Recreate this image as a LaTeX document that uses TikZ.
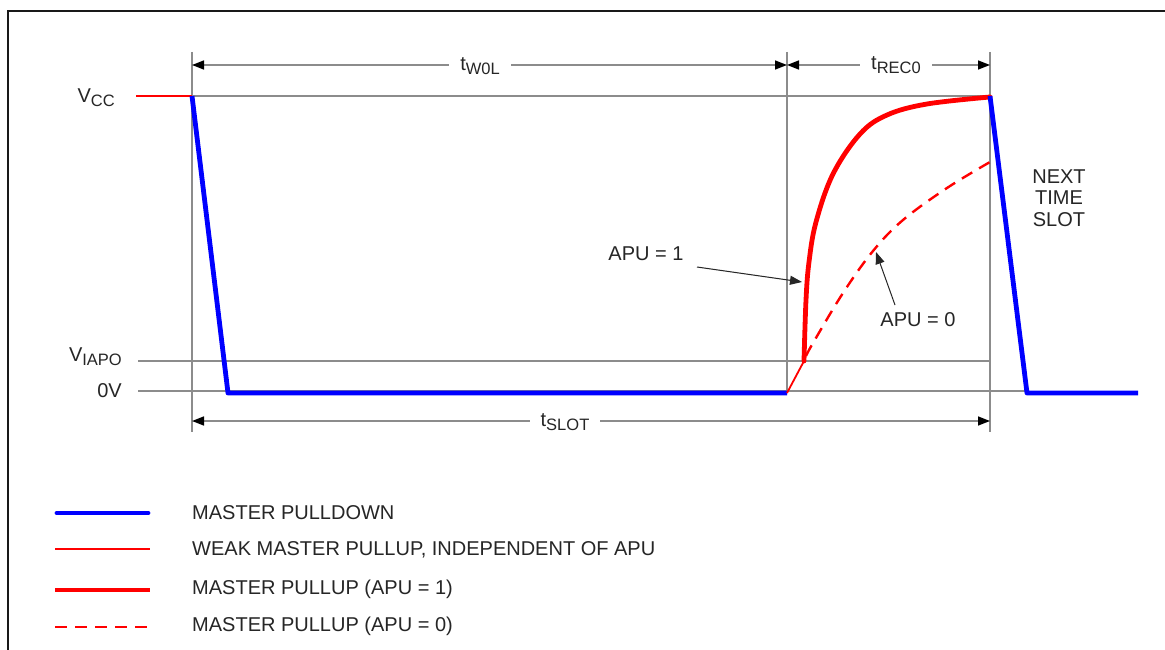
\documentclass[tikz,border=0pt]{standalone}
\usepackage{fontspec}
\setmainfont{Liberation Sans}
\usetikzlibrary{arrows.meta}
\newcommand{\sbx}[1]{\raisebox{-4pt}{\fontsize{16.5}{18}\selectfont #1}}
\begin{document}
\begin{tikzpicture}[x=1pt,y=-1pt,
  txt/.style={font=\fontsize{20}{22}\selectfont, text=black!85, inner sep=1pt},
  ref/.style={draw=black!45, line width=1.2pt},
  dimline/.style={draw=black!45, line width=1.5pt, {Triangle[length=12pt,width=9pt,color=black]}-{Triangle[length=12pt,width=9pt,color=black]}},
  callout/.style={draw=black!85, line width=1pt, -{Triangle[length=12pt,width=9pt]}},
  pulldown/.style={draw=blue, line width=4.8pt, line join=round},
  weak/.style={draw=red, line width=1.8pt},
  strong/.style={draw=red, line width=4.8pt, line cap=round},
  apuzero/.style={draw=red, line width=2.4pt, dash pattern=on 12pt off 8pt},
]
\useasboundingbox (0,0) rectangle (1165,650);
\fill[white] (0,0) rectangle (1165,650);
% frame
\draw[black!90, line width=2pt] (8,650) -- (8,11) -- (1165,11);

% coordinates
\coordinate (a0) at (192,96);
\coordinate (a1) at (228,393);
\coordinate (b0) at (787,393);
\coordinate (b1) at (804,361);
\coordinate (c0) at (990,96);
\coordinate (c1) at (1027,393);
\coordinate (c2) at (1138,393);

% reference lines
\draw[ref] (192,52) -- (192,432);
\draw[ref] (787,52) -- (787,393);
\draw[ref] (990,52) -- (990,432);
\draw[ref] (192,96) -- (990,96);
\draw[ref] (138,361) -- (990,361);
\draw[ref] (138,391) -- (1027,391);

% level labels
\node[txt, anchor=east] (vcc) at (116,98) {V\sbx{CC}};
\node[txt, anchor=east] (viapo) at (123,357) {V\sbx{IAPO}};
\node[txt, anchor=east] (zv) at (123,391) {0V};

% dimension lines
\coordinate (d1) at (192,65);
\coordinate (d2) at (787,65);
\coordinate (d3) at (990,65);
\coordinate (s1) at (192,421);
\coordinate (s2) at (990,421);
\draw[dimline] (d1) -- (d2);
\draw[dimline] (d2) -- (d3);
\draw[dimline] (s1) -- (s2);
\node[txt, fill=white, inner xsep=11pt] (tw) at (480,66) {t\sbx{W0L}};
\node[txt, fill=white, inner xsep=11pt] (tr) at (896,65) {t\sbx{REC0}};
\node[txt, fill=white, inner xsep=11pt] (ts) at (565,422) {t\sbx{SLOT}};

% waveform
\draw[weak] (136,96) -- (a0);
\draw[pulldown] (a0) -- (a1) -- (b0);
\draw[weak] (b0) -- (b1);
\draw[apuzero] plot[smooth, tension=0.6] coordinates {(806,356) (813,343) (843,293) (873,251) (903,220) (947,188) (990,162)};
\draw[strong] plot[smooth, tension=0.6] coordinates {(b1) (806,300) (809,262) (816,222) (833,174) (860,134) (887,115) (927,104) (990,97)};
\draw[pulldown] (c0) -- (c1) -- (c2);

\node[txt, align=center, font=\fontsize{20}{21.5}\selectfont] (next) at (1059,198) {NEXT\\TIME\\SLOT};

% callouts
\node[txt] (apu1) at (646,254) {APU = 1};
\node[txt] (apu0) at (918,320) {APU = 0};
\coordinate (p1) at (697,267);
\coordinate (q1) at (802,282);
\coordinate (p0) at (895,305);
\coordinate (q0) at (876,252);
\draw[callout] (p1) -- (q1);
\draw[callout] (p0) -- (q0);

% legend
\draw[pulldown, line cap=round] (57,513) -- (148,513);
\node[txt, anchor=west] (l1) at (191,513) {MASTER PULLDOWN};
\draw[weak] (55,549) -- (150,549);
\node[txt, anchor=west] (l2) at (191,550) {WEAK MASTER PULLUP, INDEPENDENT OF APU};
\draw[strong, line cap=butt] (55,590) -- (150,590);
\node[txt, anchor=west] (l3) at (191,589) {MASTER PULLUP (APU = 1)};
\draw[apuzero] (55,627) -- (150,627);
\node[txt, anchor=west] (l4) at (191,626) {MASTER PULLUP (APU = 0)};
\end{tikzpicture}
\end{document}
